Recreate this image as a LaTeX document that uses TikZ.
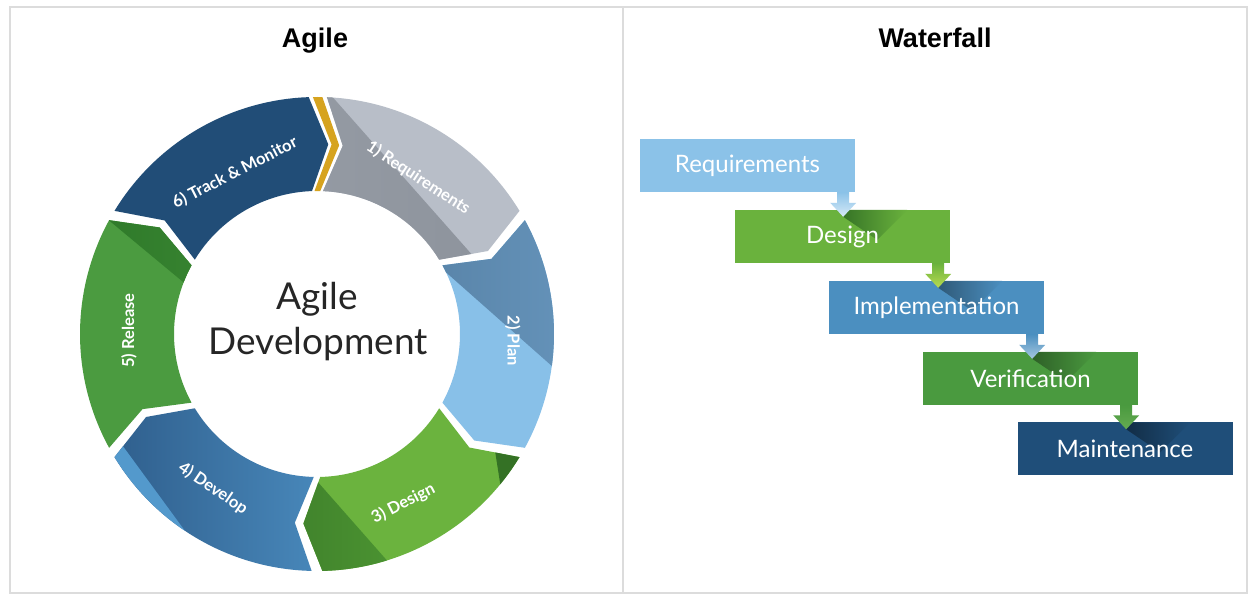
\documentclass[tikz,border=0pt]{standalone}
\usepackage{fontspec}
\setmainfont{Lato}
\newfontfamily\headfont{Liberation Sans}
\usetikzlibrary{calc}

% palette
\definecolor{rule}{HTML}{DCDCDC}
\definecolor{navy}{HTML}{214D77}
\definecolor{gold}{HTML}{D6A31F}
\definecolor{greyL}{HTML}{B8BEC8}
\definecolor{greyD}{HTML}{8E949D}
\definecolor{planD}{HTML}{557FA3}
\definecolor{planM}{HTML}{6C9CC4}
\definecolor{planL}{HTML}{88C0E8}
\definecolor{desL}{HTML}{6BB33E}
\definecolor{desD}{HTML}{3D852C}
\definecolor{devD}{HTML}{2A5683}
\definecolor{devL}{HTML}{4A8BBE}
\definecolor{devS}{HTML}{5399CC}
\definecolor{relG}{HTML}{4B9B40}
\definecolor{relD}{HTML}{2F7A2A}
\definecolor{wReq}{HTML}{8BC2E8}
\definecolor{wDes}{HTML}{6AB23D}
\definecolor{wImp}{HTML}{4B8FC0}
\definecolor{wVer}{HTML}{4A9A3F}
\definecolor{wMai}{HTML}{1F4E79}

% ring geometry (pt)
\def\Ro{237}
\def\Ri{143}
\def\Rm{190}
\def\Dp{5.4}
% chevron-shaped ring segment between corner angles #1 (start) and #2 (end)
\newcommand\ringpath[2]{(#1:\Ro) arc[start angle=#1, end angle=#2, radius=\Ro]
  -- ({#2-\Dp}:\Rm) -- (#2:\Ri) arc[start angle=#2, end angle=#1, radius=\Ri]
  -- ({#1-\Dp}:\Rm) -- cycle}

\tikzset{
  tableline/.style={draw=rule, line width=2pt},
  heading/.style={font=\headfont\bfseries\fontsize{27}{30}\selectfont, text=black, inner sep=0pt},
  ringlabel/.style={font=\bfseries\fontsize{16.5}{18}\selectfont, text=white, inner sep=0pt},
  centertext/.style={font=\fontsize{37}{42}\selectfont, text=black!85, inner sep=0pt},
  wbox/.style={minimum width=215pt, minimum height=53pt, inner sep=0pt},
  wtext/.style={font=\fontsize{24}{27}\selectfont, text=white, inner sep=0pt},
}

\begin{document}
\begin{tikzpicture}[x=1pt,y=1pt]
\useasboundingbox (0,0) rectangle (1252,596);
\fill[white] (0,0) rectangle (1252,596);

% table frame
\draw[tableline] (10,589) rectangle (1247,3);
\draw[tableline] (622.5,589) -- (622.5,3);
\node[heading, anchor=base] (tA) at (315,548) {Agile};
\node[heading, anchor=base] (tW) at (935,548) {Waterfall};

% ---------------- Agile cycle ----------------
\begin{scope}[shift={(317,262)}]
  % 6) Track & Monitor
  \fill[navy] \ringpath{148.7}{92.0};
  % gold separator chevron
  \fill[gold] \ringpath{91.0}{88.7};
  % 1) Requirements
  \begin{scope}
    \clip \ringpath{87.6}{31.3};
    \fill[greyL] (-300,-300) rectangle (300,300);
    \shade[left color=greyD!85!greyL, right color=greyD] (88:245) -- (26:175) -- (26:60) -- (100:60) -- cycle;
  \end{scope}
  % 2) Plan
  \begin{scope}
    \clip \ringpath{28.7}{-28.7};
    \fill[planL] (-300,-300) rectangle (300,300);
    \shade[left color=planD, right color=planM] (62.8,120.2) -- (242,-38.3) -- (342,74.7) -- (162.8,233.2) -- cycle;
  \end{scope}
  % 3) Design
  \begin{scope}
    \clip \ringpath{-31.3}{-88.7};
    \fill[desL] (-300,-300) rectangle (300,300);
    \shade[left color=desD!80!black, right color=desD!70!desL] (-55.9,-83.6) -- (75.7,-233) -- (-44.3,-339) -- (-175.9,-189.6) -- cycle;
    \fill[desD!85!black] (-30:245) -- (-41:245) -- (-33:212) -- cycle;
  \end{scope}
  % 4) Develop
  \begin{scope}
    \clip \ringpath{-91.3}{-148.7};
    \shade[left color=devD, right color=devL] (-250,-260) rectangle (20,-20);
    \fill[devS] (-156:228) -- (-122:240) -- (-122:270) -- (-156:270) -- cycle;
  \end{scope}
  % 5) Release
  \begin{scope}
    \clip \ringpath{208.7}{151.3};
    \fill[relG] (-300,-300) rectangle (300,300);
    \shade[left color=relD, right color=relD!70!relG] (151:245) -- (160:135) -- (140:135) -- (140:245) -- cycle;
  \end{scope}

  % segment labels
  \node[ringlabel, rotate=27]  (l6) at (117:181) {6) Track \& Monitor};
  \node[ringlabel, rotate=-33] (l1) at (57:186)  {1) Requirements};
  \node[ringlabel, rotate=-90] (l2) at (-2:196)  {2) Plan};
  \node[ringlabel, rotate=27]  (l3) at (-63:190) {3) Design};
  \node[ringlabel, rotate=-34] (l4) at (-124:186) {4) Develop};
  \node[ringlabel, rotate=90]  (l5) at (179:188) {5) Release};

  % hub text
  \node[centertext, anchor=base] (c1) at (0,24)  {Agile};
  \node[centertext, anchor=base] (c2) at (1,-21) {Development};
\end{scope}

% ---------------- Waterfall ----------------
\node[wbox, fill=wReq] (w1) at (747.5,430.5) {};
\node[wbox, fill=wDes] (w2) at (842.5,359.5) {};
\node[wbox, fill=wImp] (w3) at (936.5,288.5) {};
\node[wbox, fill=wVer] (w4) at (1030.5,217.5) {};
\node[wbox, fill=wMai] (w5) at (1125,147) {};

% fold shadow on the receiving box, then the step arrow
\newcommand\stepflow[6]{%
  \coordinate (#1x) at ($(#1.south east)+(-12,0)$);
  \coordinate (#1t) at (#1x |- #2.north);
  \shade[left color=#5, right color=#6]
    ($(#1t)+(-4,0)$) -- ($(#1t)+(64,0)$) -- ($(#1t)+(34,-30)$) -- ($(#1t)+(0,-7)$) -- cycle;
  \shade[top color=#3, bottom color=#4]
    ($(#1x)+(-6,0)$) -- ($(#1x)+(6,0)$) -- ($(#1t)+(6,7)$) -- ($(#1t)+(13,7)$)
    -- ($(#1t)+(0,-7)$) -- ($(#1t)+(-13,7)$) -- ($(#1t)+(-6,7)$) -- cycle;
}
\stepflow{w1}{w2}{wReq}{wReq!35!white}{desD!85!black}{wDes}
\stepflow{w2}{w3}{wDes}{wDes!60!yellow!80!white}{wImp!60!black}{wImp}
\stepflow{w3}{w4}{wImp}{wImp!50!white}{wVer!60!black}{wVer}
\stepflow{w4}{w5}{wVer}{wVer!70!wDes!90!white}{wMai!55!black}{wMai}

\node[wtext] (t1) at (w1) {Requirements};
\node[wtext] (t2) at (w2) {Design};
\node[wtext] (t3) at (w3) {Implementation};
\node[wtext] (t4) at (w4) {Verification};
\node[wtext] (t5) at (w5) {Maintenance};
\end{tikzpicture}
\end{document}
